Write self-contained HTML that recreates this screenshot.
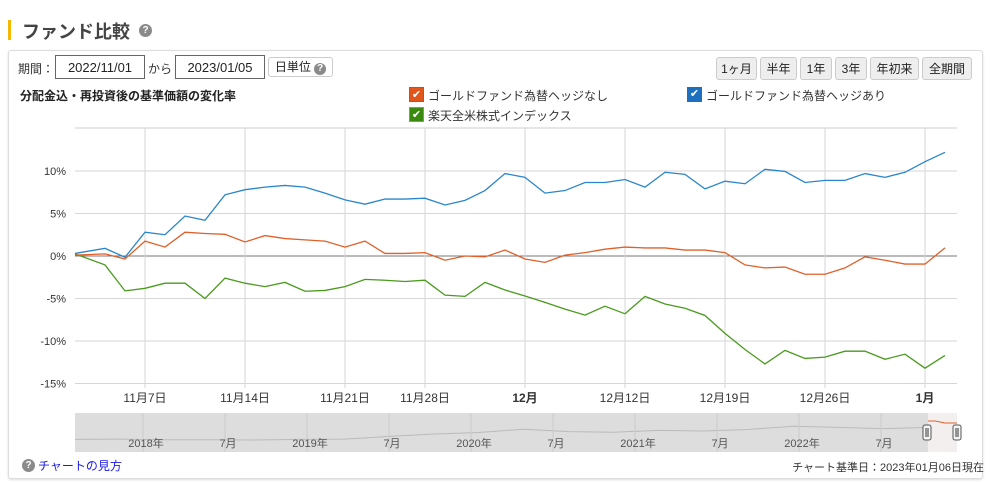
<!DOCTYPE html>
<html><head><meta charset="utf-8">
<style>
body{margin:0;width:993px;height:482px;background:#fff;font-family:"Liberation Sans","Noto Sans CJK JP",sans-serif;color:#333;position:relative;overflow:hidden}
.abs{position:absolute}
.q{display:inline-block;width:13px;height:13px;border-radius:50%;background:#8a8a8a;color:#fff;font-size:10px;font-weight:bold;text-align:center;line-height:13px}
.inp{border:1px solid #666;height:24px;line-height:24px;text-align:center;font-size:13px;color:#222;box-sizing:border-box;background:#fff}
.btn{border:1px solid #ccc;border-radius:3px;background:#eee;height:23px;line-height:22px;text-align:center;font-size:12px;color:#222;box-sizing:border-box}
.cb{width:15px;height:15px;color:#fff;font-size:11px;text-align:center;line-height:15px;box-sizing:border-box}
.lg{font-size:12px;color:#333}
</style></head><body>
<div class="abs" style="left:8px;top:20px;width:3px;height:20px;background:#f5b800"></div>
<div class="abs" style="left:22px;top:18px;font-size:18px;font-weight:bold;color:#444">ファンド比較</div>
<div class="abs q" style="left:139px;top:24px">?</div>
<div class="abs" style="left:8px;top:50px;width:975px;height:429px;border:1px solid #ddd;border-radius:3px;box-sizing:border-box;box-shadow:0 1px 2px #ddd"></div>
<div class="abs" style="left:18px;top:60px;font-size:12px">期間：</div>
<div class="abs inp" style="left:55px;top:55px;width:90px">2022/11/01</div>
<div class="abs" style="left:148px;top:60px;font-size:12px">から</div>
<div class="abs inp" style="left:175px;top:55px;width:90px">2023/01/05</div>
<div class="abs btn" style="left:268px;top:57px;width:65px;height:20px;line-height:18px;background:#fff">日単位 <span class="q" style="width:12px;height:12px;line-height:12px">?</span></div>
<div class="abs btn" style="left:716px;top:57px;width:41px">1ヶ月</div>
<div class="abs btn" style="left:760px;top:57px;width:37px">半年</div>
<div class="abs btn" style="left:800px;top:57px;width:32px">1年</div>
<div class="abs btn" style="left:835px;top:57px;width:32px">3年</div>
<div class="abs btn" style="left:870px;top:57px;width:49px">年初来</div>
<div class="abs btn" style="left:922px;top:57px;width:50px">全期間</div>
<div class="abs" style="left:20px;top:87px;font-size:12px;font-weight:bold;color:#222">分配金込・再投資後の基準価額の変化率</div>
<div class="abs" style="left:409px;top:87px"><span class="abs cb" style="left:0;top:0;background:#e0561b;border:1px solid #c44">✔</span><span class="abs lg" style="left:19px;top:0;white-space:nowrap">ゴールドファンド為替ヘッジなし</span></div>
<div class="abs" style="left:687px;top:87px"><span class="abs cb" style="left:0;top:0;background:#1f6fbf">✔</span><span class="abs lg" style="left:19px;top:0;white-space:nowrap">ゴールドファンド為替ヘッジあり</span></div>
<div class="abs" style="left:409px;top:107px"><span class="abs cb" style="left:0;top:0;background:#3a8a10;border:1px solid #6a6">✔</span><span class="abs lg" style="left:19px;top:0;white-space:nowrap">楽天全米株式インデックス</span></div>

<svg class="abs" style="left:0;top:0" width="993" height="482" id="chart"></svg>

<div class="abs q" style="left:22px;top:459px">?</div>
<div class="abs" style="left:38px;top:457px;font-size:12px;color:#1a1aee">チャートの見方</div>
<div class="abs" style="right:9px;top:459px;font-size:11px;color:#333">チャート基準日：2023年01月06日現在</div>

<script>
const blueValues=[0.3,0.9,-0.15,2.8,2.5,4.7,4.2,7.2,7.8,8.1,8.3,8.1,7.4,6.6,6.1,6.7,6.7,6.8,6.0,6.55,7.7,9.7,9.25,7.4,7.7,8.65,8.65,9.0,8.1,9.85,9.6,7.9,8.8,8.5,10.2,9.95,8.65,8.9,8.9,9.7,9.25,9.85,11.1,12.2];
const orangeValues=[0.1,0.25,-0.35,1.75,1.05,2.8,2.65,2.55,1.65,2.4,2.05,1.9,1.75,1.05,1.75,0.3,0.3,0.4,-0.5,0,-0.1,0.7,-0.35,-0.75,0.1,0.4,0.8,1.05,0.95,0.95,0.7,0.7,0.4,-1.05,-1.4,-1.3,-2.15,-2.15,-1.4,-0.1,-0.5,-0.95,-0.95,0.95];
const greenValues=[0.25,-1.05,-4.1,-3.8,-3.2,-3.2,-5.0,-2.6,-3.2,-3.6,-3.1,-4.15,-4.05,-3.6,-2.75,-2.85,-3.0,-2.85,-4.6,-4.75,-3.1,-4.0,-4.7,-5.45,-6.25,-6.95,-5.9,-6.8,-4.75,-5.65,-6.15,-7.0,-9.1,-11.0,-12.7,-11.1,-12.05,-11.9,-11.2,-11.2,-12.15,-11.55,-13.2,-11.7];
const yTicks=[10,5,0,-5,-10,-15];
const yTickLabels=["10%","5%","0%","-5%","-10%","-15%"];
const xTickIdx=[3,8,13,17,22,27,32,37,42];
const xTickLabels=["11月7日","11月14日","11月21日","11月28日","12月","12月12日","12月19日","12月26日","1月"];
const navLabels=["2018年","7月","2019年","7月","2020年","7月","2021年","7月","2022年","7月"];
const navHistory=[0.2,0.3,0.1,0.1,0.0,0.2,0.3,1.2,2.0,2.5,3.6,2.8,2.6,3.2,3.0,3.5,4.6,4.2,3.8,4.2];

const NS="http://www.w3.org/2000/svg";
const svg=document.getElementById('chart');
const L=75,R=957,T=128,B=383;
const y=v=>256-v*8.5;
const x=i=>i===0?75:85+20*i;
function mk(t,a){const e=document.createElementNS(NS,t);for(const k in a)e.setAttribute(k,a[k]);svg.appendChild(e);return e;}
mk('line',{x1:L,x2:R,y1:T,y2:T,stroke:'#ccc'});
yTicks.forEach((v,k)=>{
  const g=mk('line',{x1:L,x2:R,y1:y(v),y2:y(v),stroke:v===0?'#777':'#d6d6d6'});
  
  
  const t=mk('text',{x:66,y:y(v)+4,'text-anchor':'end','font-size':11,fill:'#333'});
  t.textContent=yTickLabels[k];
  
  
});
xTickIdx.forEach((i,k)=>{
  const g=mk('line',{x1:x(i),x2:x(i),y1:T,y2:B+5,stroke:'#d6d6d6'});
  
  
  const bold=!xTickLabels[k].includes('日');
  const t=mk('text',{x:x(i),y:402,'text-anchor':'middle','font-size':12,fill:'#333','font-weight':bold?'bold':'normal'});
  t.textContent=xTickLabels[k];
  
  
});
function series(vals,col,name){
  const p=mk('polyline',{points:vals.map((v,i)=>x(i)+','+y(v)).join(' '),fill:'none',stroke:col,'stroke-width':1.3});
  
  
}
series(greenValues,'#4a9a1e','series-us-equity');
series(orangeValues,'#e0602a','series-gold-unhedged');
series(blueValues,'#2a86cc','series-gold-hedged');
const nav=mk('rect',{x:L,y:413,width:R-L,height:39,fill:'#ddd'});


const sel=mk('rect',{x:928,y:413,width:R-928,height:39,fill:'#f4efef'});


const nx=i=>L+853*i/(navHistory.length-1);
const ny=v=>440-v*3;
const nl=mk('polyline',{points:navHistory.map((v,i)=>nx(i)+','+ny(v)).join(' '),fill:'none',stroke:'#bbb'});


mk('polyline',{points:'928,421 935,421 945,423 957,423',fill:'none',stroke:'#e0602a'});
navLabels.forEach((s,k)=>{
  const gx=145+k*82;
  mk('line',{x1:gx-2,x2:gx-2,y1:413,y2:452,stroke:'#ccc'});
  const t=mk('text',{x:gx+1,y:447,'text-anchor':'middle','font-size':11,fill:'#555'});
  t.textContent=s;
  
  
});
[927,957].forEach(hx=>{
  const h=mk('rect',{x:hx-4,y:425,width:8,height:15,rx:2,fill:'#f4f4f4',stroke:'#555'});
  
  
  mk('line',{x1:hx-1,x2:hx-1,y1:428,y2:437,stroke:'#333'});
  mk('line',{x1:hx+1,x2:hx+1,y1:428,y2:437,stroke:'#333'});
});
</script>
</body></html>
